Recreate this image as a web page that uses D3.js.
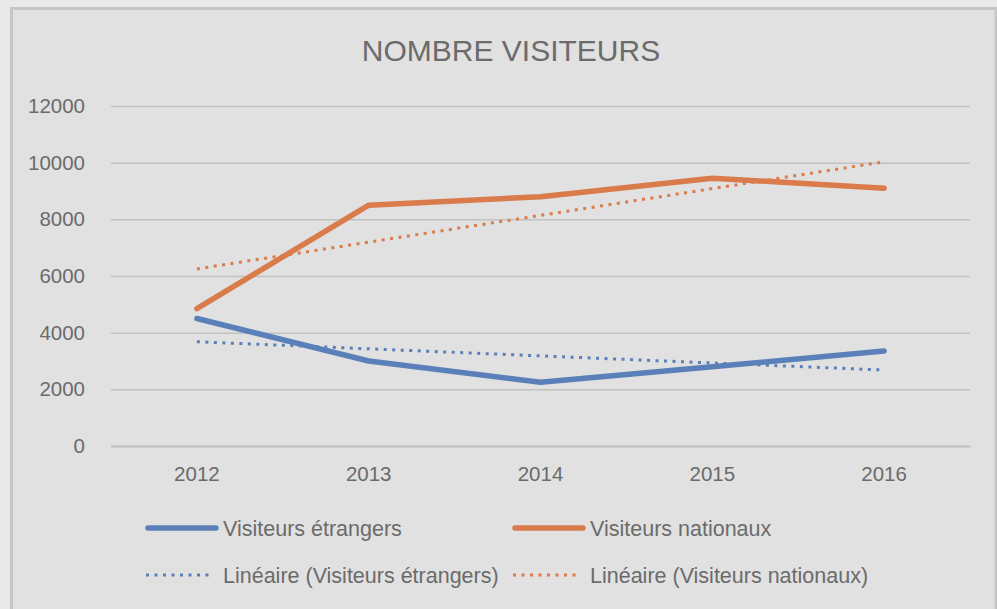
<!DOCTYPE html>
<html>
<meta charset="utf-8">
<head>
  <title>Nombre visiteurs</title>
</head>

<style>
body {
  margin: 0;
  background: #e9e9e9;
}
text {
  font-family: "Liberation Sans", Arial, sans-serif;
  fill: #6b6b6b;
}
</style>

<body>
  <svg width="997" height="609"></svg>

<script src="https://d3js.org/d3.v7.min.js"></script>
  <script>
var width = 997, height = 609

// data
var years = ['2012', '2013', '2014', '2015', '2016']
var etrangers = [4500, 3000, 2250, 2800, 3350]
var nationaux = [4850, 8500, 8800, 9450, 9100]
var yTicks = [0, 2000, 4000, 6000, 8000, 10000, 12000]

var blue = '#5b80b9', orange = '#d97b4b'

var svg = d3.select('svg')

// chart area frame
svg.append('rect')
  .attr('x', 11.5).attr('y', 8.5)
  .attr('width', 996 - 11.5).attr('height', 640)
  .attr('fill', '#e1e1e1')
  .attr('stroke', '#c6c6c6')
  .attr('stroke-width', 3)

var x = d3.scaleBand().domain(years).range([111, 970])
var y = d3.scaleLinear().domain([0, 12000]).range([446, 106])

function cx(d) { return x(d) + x.bandwidth() / 2 }

// linear trend (least squares), like Excel's "Linéaire"
function trend(values) {
  var n = values.length
  var xs = d3.range(n)
  var mx = d3.mean(xs), my = d3.mean(values)
  var num = d3.sum(xs, function(i) { return (i - mx) * (values[i] - my) })
  var den = d3.sum(xs, function(i) { return (i - mx) * (i - mx) })
  var b = num / den
  return xs.map(function(i) { return my + b * (i - mx) })
}

// gridlines + y labels
var yAxis = d3.axisLeft(y).tickValues(yTicks).tickFormat(d3.format('d'))
  .tickSize(-(970 - 111)).tickPadding(26)
var gy = svg.append('g').attr('transform', 'translate(111,0)').call(yAxis)
gy.select('.domain').remove()
gy.selectAll('.tick line').attr('stroke', '#c2c2c2').attr('stroke-width', 1.5)
gy.selectAll('.tick text')
  .style('font-size', '20.5px')
  .attr('fill', '#6b6b6b')

// x labels
var xAxis = d3.axisBottom(x).tickSize(0).tickPadding(20)
var gx = svg.append('g').attr('transform', 'translate(0,446)').call(xAxis)
gx.select('.domain').attr('stroke', '#c2c2c2').attr('stroke-width', 2)
gx.selectAll('.tick text')
  .style('font-size', '20.5px')
  .attr('fill', '#6b6b6b')

var line = d3.line()
  .x(function(d, i) { return cx(years[i]) })
  .y(function(d) { return y(d) })

// trend lines
svg.append('path').datum(trend(etrangers))
  .attr('d', line).attr('fill', 'none')
  .attr('stroke', blue).attr('stroke-width', 3)
  .attr('stroke-dasharray', '3,5.5')
svg.append('path').datum(trend(nationaux))
  .attr('d', line).attr('fill', 'none')
  .attr('stroke', orange).attr('stroke-width', 3)
  .attr('stroke-dasharray', '3,5.5')

// series
svg.append('path').datum(etrangers)
  .attr('d', line).attr('fill', 'none')
  .attr('stroke', blue).attr('stroke-width', 5.5)
  .attr('stroke-linecap', 'round').attr('stroke-linejoin', 'round')
svg.append('path').datum(nationaux)
  .attr('d', line).attr('fill', 'none')
  .attr('stroke', orange).attr('stroke-width', 5.5)
  .attr('stroke-linecap', 'round').attr('stroke-linejoin', 'round')

// title
svg.append('text')
  .attr('x', 511).attr('y', 61)
  .attr('text-anchor', 'middle')
  .style('font-size', '30px')
  .attr('fill', '#666666')
  .text('NOMBRE VISITEURS')

// legend
var legend = [
  {label: 'Visiteurs étrangers', color: blue, dotted: false, x: 146, y: 528},
  {label: 'Visiteurs nationaux', color: orange, dotted: false, x: 513, y: 528},
  {label: 'Linéaire (Visiteurs étrangers)', color: blue, dotted: true, x: 146, y: 575},
  {label: 'Linéaire (Visiteurs nationaux)', color: orange, dotted: true, x: 513, y: 575}
]
var lg = svg.selectAll('.legend').data(legend).enter().append('g')
  .attr('class', 'legend')
  .attr('transform', function(d) { return 'translate(' + d.x + ',' + d.y + ')' })
lg.append('line')
  .attr('x1', function(d) { return d.dotted ? 0 : 2 })
  .attr('x2', function(d) { return d.dotted ? 68 : 70 })
  .attr('stroke', function(d) { return d.color })
  .attr('stroke-width', function(d) { return d.dotted ? 3 : 5.5 })
  .attr('stroke-linecap', function(d) { return d.dotted ? 'butt' : 'round' })
  .attr('stroke-dasharray', function(d) { return d.dotted ? '3,5.5' : null })
lg.append('text')
  .attr('x', 77).attr('dy', '0.35em')
  .style('font-size', '21.5px')
  .text(function(d) { return d.label })
  </script>
</body>
</html>
